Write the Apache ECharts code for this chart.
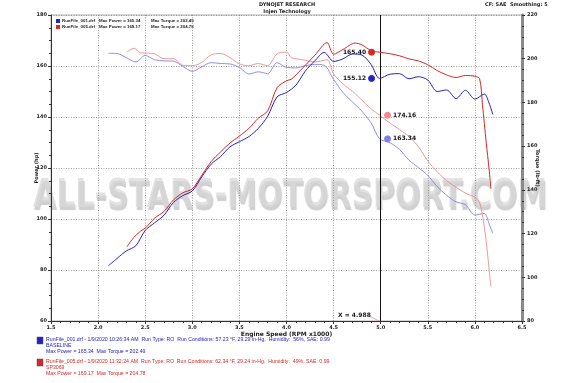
<!DOCTYPE html>
<html>
<head>
<meta charset="utf-8">
<script src="https://cdn.jsdelivr.net/npm/echarts@6/dist/echarts.min.js"></script>
<style>
html, body { margin: 0; padding: 0; background: #fff; }
#dyno { width: 575px; height: 383px; }
</style>
</head>
<body>
<div id="dyno"></div>
<script>
//  engine speed (RPM x1000) for each run
const rpmBase = [2.11, 2.2, 2.3, 2.4, 2.5, 2.6, 2.7, 2.8, 2.9, 3.0, 3.1, 3.2, 3.3, 3.4, 3.5, 3.6, 3.7, 3.8, 3.9, 4.0,
    4.1, 4.2, 4.3, 4.4, 4.5, 4.6, 4.7, 4.8, 4.9, 4.988, 5.1, 5.2, 5.3, 5.4, 5.5, 5.6, 5.7, 5.8, 5.9, 6.0, 6.1, 6.15, 6.19];
const powerBase = [81.7, 84.5, 87.5, 89.5, 95.5, 98.5, 101.5, 106.5, 109.2, 111, 116.5, 121.5, 124.5, 128.3, 130.3,
    132.3, 135.5, 140.3, 147.9, 149.6, 152.5, 158, 162, 165.34, 161.8, 162.8, 164.7, 164.3, 160.5, 155.12, 156.8, 157,
    155, 155.8, 154.5, 150, 150.6, 147.2, 150.5, 147, 149, 145.5, 141];
const torqueBase = [202.49, 202.4, 200.5, 198.5, 201.5, 199.5, 199, 198.9, 196.5, 194.2, 196.3, 198.2, 197.8, 197.6,
    196, 193, 194, 193.2, 198.2, 196, 195.8, 196.8, 197.4, 197, 190.5, 184.5, 180.2, 176, 170.5, 163.34, 161.5, 158.5,
    153.6, 150.2, 146.6, 141.5, 137.5, 134.5, 133.2, 128.5, 129.2, 124.5, 120.1];

const rpmSp = [2.305, 2.38, 2.45, 2.5, 2.6, 2.7, 2.8, 2.9, 3.0, 3.1, 3.2, 3.3, 3.4, 3.5, 3.6, 3.7, 3.8, 3.9, 4.0, 4.05,
    4.1, 4.2, 4.3, 4.43, 4.5, 4.6, 4.73, 4.8, 4.9, 4.988, 5.1, 5.2, 5.3, 5.4, 5.5, 5.6, 5.7, 5.8, 5.9, 6.0, 6.05, 6.08,
    6.12, 6.15, 6.17];
const powerSp = [89.1, 92.8, 95.2, 96.4, 100.3, 103, 107.5, 110.3, 111.8, 117.1, 122.5, 126.3, 129.8, 132.5, 135.5,
    139.5, 142.4, 151.5, 154.2, 154.8, 156.5, 160.3, 164.2, 169.17, 164.6, 166.5, 169, 168.3, 166, 165.4, 164.8, 164,
    162.8, 162, 160.5, 158.2, 156.5, 155.5, 156.3, 156, 155, 145, 130, 119.8, 111.9];
const torqueSp = [203, 204.78, 202.7, 202.6, 202.2, 200, 200, 197, 196.8, 198.3, 201.8, 202.4, 200.5, 197.6, 196.8,
    197.8, 196.8, 202.3, 203, 200.5, 200, 199.3, 198.5, 199.5, 193, 188.5, 184, 181, 177, 174.16, 170.5, 167.6, 164.4,
    159.8, 153.2, 148.3, 144.2, 141.2, 138.5, 136.6, 134, 128.5, 116.4, 104, 95.9];

//  cursor readout
const cursorRpm = 4.988;
const cursorPower = { base: 155.12, sp: 165.40 };
const cursorTorque = { base: 163.34, sp: 174.16 };

//  text
const legendRows = [
    ['RunFile_001.drf', 'Max Power = 165.34', 'Max Torque = 202.49'],
    ['RunFile_005.drf', 'Max Power = 169.17', 'Max Torque = 204.78'],
];
const runInfo = [
    ['RunFile_001.drf - 1/9/2020 10:26:34 AM  Run Type: RO  Run Conditions: 57.23 °F, 29.29 in-Hg,  Humidity:  56%, SAE: 0.99',
        'BASELINE', 'Max Power = 165.34  Max Torque = 202.49'],
    ['RunFile_005.drf - 1/9/2020 11:32:24 AM  Run Type: RO  Run Conditions: 62.34 °F, 29.24 in-Hg,  Humidity:  49%, SAE: 0.99',
        'SP3069', 'Max Power = 169.17  Max Torque = 204.78'],
];

const BLUE = '#2222c8';
const RED = '#d92626';
const LIGHT_BLUE = '#8282e6';
const LIGHT_RED = '#ee8c8c';
const FONT = '"DejaVu Sans"';

function pairs(xs, ys) {
    return xs.map(function (x, i) { return [x, ys[i]]; });
}

//  marker at the cursor line (label moves with the offset symbol)
function cursorMark(value, color, side) {
    return {
        symbol: 'circle',
        symbolSize: 6,
        symbolOffset: [side === 'left' ? -8 : 8, 0],
        itemStyle: { color: color, borderColor: color, borderWidth: 1 },
        label: {
            show: true,
            position: side,
            distance: 2,
            color: '#111',
            fontFamily: FONT,
            fontWeight: 'bold',
            fontSize: 6,
            formatter: function (p) { return p.value.toFixed(2); },
        },
        data: [{ coord: [cursorRpm, value], value: value }],
    };
}

const graphics = [];

//  watermark
graphics.push({
    type: 'text', x: 290, y: 197, scaleY: 1.3, z: -10,
    style: {
        text: 'ALL-STARS-MOTORSPORT.COM',
        font: 'bold 30px ' + FONT,
        fill: '#d8d8d8',
        align: 'center', verticalAlign: 'middle',
        textShadowColor: '#bdbdbd', textShadowOffsetX: 1, textShadowOffsetY: 3, textShadowBlur: 1,
        opacity: 0.72,
    },
});

//  header
graphics.push({ type: 'text', x: 287, y: 2, style: { text: 'DYNOJET RESEARCH', font: 'bold 5px ' + FONT, fill: '#222', align: 'center' } });
graphics.push({ type: 'text', x: 287, y: 9, style: { text: 'Injen Technology', font: 'bold 5px ' + FONT, fill: '#222', align: 'center' } });
graphics.push({ type: 'text', x: 485, y: 2, style: { text: 'CF: SAE  Smoothing: 5', font: 'bold 5px ' + FONT, fill: '#222' } });

//  legend inside plot
[BLUE, RED].forEach(function (c, i) {
    const y = 19 + i * 6;
    const f = 'bold 4.4px "Liberation Sans"';
    graphics.push({ type: 'rect', shape: { x: 56, y: y, width: 4, height: 4 }, style: { fill: c } });
    graphics.push({ type: 'text', x: 62, y: y - 0.3, style: { text: legendRows[i][0], font: f, fill: '#222' } });
    graphics.push({ type: 'text', x: 99, y: y - 0.3, style: { text: legendRows[i][1], font: f, fill: '#222' } });
    graphics.push({ type: 'text', x: 151, y: y - 0.3, style: { text: legendRows[i][2], font: f, fill: '#222' } });
});

//  run info under the chart
[BLUE, RED].forEach(function (c, i) {
    const y = 337 + i * 22;
    graphics.push({ type: 'rect', shape: { x: 37, y: y, width: 6, height: 7 }, style: { fill: c, stroke: '#555', lineWidth: 0.5 } });
    runInfo[i].forEach(function (line, j) {
        graphics.push({ type: 'text', x: 46, y: y + j * 6, style: { text: line, font: '5.2px "Liberation Sans"', fill: c } });
    });
});

//  cursor readout label
graphics.push({ type: 'line', shape: { x1: 367, y1: 315, x2: 379, y2: 321 }, style: { stroke: LIGHT_RED, lineWidth: 0.8 } });
graphics.push({ type: 'text', x: 338, y: 312, style: { text: 'X = 4.988', font: 'bold 6px ' + FONT, fill: '#222' } });

const axisText = { color: '#222', fontFamily: FONT, fontWeight: 'bold', fontSize: 5 };

const option = {
    backgroundColor: '#fff',
    animation: false,
    graphic: graphics,
    grid: {
        left: 51, right: 53, top: 15, bottom: 62,
        show: true, borderColor: '#999', borderWidth: 0.8,
    },
    xAxis: {
        type: 'value', min: 1.5, max: 6.5, interval: 0.5,
        name: 'Engine Speed (RPM x1000)', nameLocation: 'middle', nameGap: 10, nameMoveOverlap: false,
        nameTextStyle: { color: '#222', fontFamily: FONT, fontWeight: 'bold', fontSize: 6 },
        axisLine: { lineStyle: { color: '#333', width: 1 } },
        axisTick: { length: 3, lineStyle: { color: '#333' } },
        minorTick: { show: true, splitNumber: 5, length: 2, lineStyle: { color: '#333' } },
        axisLabel: Object.assign({ margin: 4, formatter: function (v) { return v.toFixed(1); } }, axisText),
        splitLine: { show: true, lineStyle: { color: '#888', type: [1, 1.5], width: 0.8 } },
    },
    yAxis: [{
        type: 'value', min: 60, max: 180, interval: 20,
        name: 'Power (hp)', nameLocation: 'middle', nameGap: 12, nameMoveOverlap: false,
        nameTextStyle: { color: '#222', fontFamily: FONT, fontWeight: 'bold', fontSize: 5 },
        axisLine: { show: true, lineStyle: { color: '#333', width: 1 } },
        axisTick: { show: true, length: 3, lineStyle: { color: '#333' } },
        minorTick: { show: true, splitNumber: 4, length: 2, lineStyle: { color: '#333' } },
        axisLabel: Object.assign({ margin: 4 }, axisText),
        splitLine: { show: true, lineStyle: { color: '#888', type: [1, 1.5], width: 0.8 } },
    }, {
        type: 'value', min: 80, max: 220, interval: 20, position: 'right',
        name: 'Torque (lb-ft)', nameLocation: 'middle', nameGap: 13, nameRotate: -90, nameMoveOverlap: false,
        nameTextStyle: { color: '#222', fontFamily: FONT, fontWeight: 'bold', fontSize: 5 },
        axisLine: { show: true, lineStyle: { color: '#8a8a8a', width: 3 } },
        axisTick: { show: true, length: 3, lineStyle: { color: '#333' } },
        minorTick: { show: true, splitNumber: 4, length: 2, lineStyle: { color: '#333' } },
        axisLabel: Object.assign({ margin: 5 }, axisText),
        splitLine: { show: false },
    }],
    series: [{
        name: 'Power baseline', type: 'line', yAxisIndex: 0, showSymbol: false, smooth: 0.3, z: 5,
        lineStyle: { color: BLUE, width: 1 },
        data: pairs(rpmBase, powerBase),
        markPoint: cursorMark(cursorPower.base, BLUE, 'left'),
        markLine: {
            symbol: 'none', silent: true, label: { show: false },
            lineStyle: { color: '#111', type: 'solid', width: 1 },
            data: [{ xAxis: cursorRpm }],
        },
    }, {
        name: 'Power SP3069', type: 'line', yAxisIndex: 0, showSymbol: false, smooth: 0.3, z: 5,
        lineStyle: { color: RED, width: 1 },
        data: pairs(rpmSp, powerSp),
        markPoint: cursorMark(cursorPower.sp, RED, 'left'),
    }, {
        name: 'Torque baseline', type: 'line', yAxisIndex: 1, showSymbol: false, smooth: 0.3, z: 4,
        lineStyle: { color: LIGHT_BLUE, width: 0.9 },
        data: pairs(rpmBase, torqueBase),
        markPoint: cursorMark(cursorTorque.base, LIGHT_BLUE, 'right'),
    }, {
        name: 'Torque SP3069', type: 'line', yAxisIndex: 1, showSymbol: false, smooth: 0.3, z: 4,
        lineStyle: { color: LIGHT_RED, width: 0.9 },
        data: pairs(rpmSp, torqueSp),
        markPoint: cursorMark(cursorTorque.sp, LIGHT_RED, 'right'),
    }],
};

const myChart = echarts.init(document.getElementById('dyno'));
myChart.setOption(option);
</script>
</body>
</html>
